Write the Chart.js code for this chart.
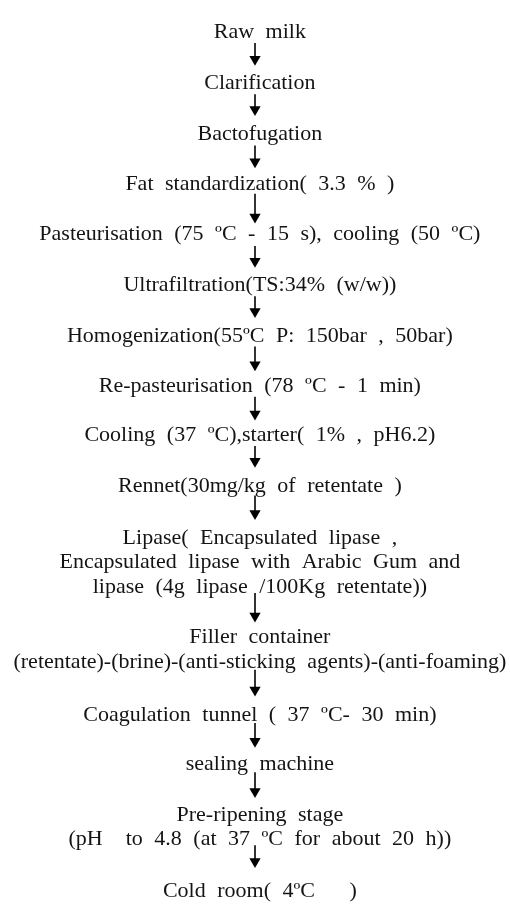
<!DOCTYPE html>
<html>
<head>
<meta charset="utf-8">
<script src="https://cdn.jsdelivr.net/npm/chart.js@4/dist/chart.umd.min.js"></script>
<style>
  html, body { margin: 0; padding: 0; background: #fff; }
  #wrap { width: 510px; height: 905px; }
</style>
</head>
<body>
<div id="wrap"><canvas id="flow" width="510" height="905"></canvas></div>
<script>
// Pasos del diagrama (cada paso puede tener varias lineas)
const stepLabels = [
  ['Raw milk'],
  ['Clarification'],
  ['Bactofugation'],
  ['Fat standardization( 3.3 % )'],
  ['Pasteurisation (75 ºC - 15 s), cooling (50 ºC)'],
  ['Ultrafiltration(TS:34% (w/w))'],
  ['Homogenization(55ºC P: 150bar , 50bar)'],
  ['Re-pasteurisation (78 ºC - 1 min)'],
  ['Cooling (37 ºC),starter( 1% , pH6.2)'],
  ['Rennet(30mg/kg of retentate )'],
  ['Lipase( Encapsulated lipase ,', 'Encapsulated lipase with Arabic Gum and', 'lipase (4g lipase /100Kg retentate))'],
  ['Filler container', '(retentate)-(brine)-(anti-sticking agents)-(anti-foaming)'],
  ['Coagulation tunnel ( 37 ºC- 30 min)'],
  ['sealing machine'],
  ['Pre-ripening stage', '(pH  to 4.8 (at 37 ºC for about 20 h))'],
  ['Cold room( 4ºC   )']
];
// posicion vertical (centro de la primera linea) de cada paso
const stepY = [24, 76, 127, 178, 229, 281, 332, 383, 433, 485, 537, 638, 717, 767, 818, 895];

// flechas entre pasos: inicio y punta
const arrowTop = [37, 89, 141, 190, 243, 294, 345, 396, 446, 496, 595, 673, 727, 777, 851];
const arrowTip = [60, 111, 164, 220, 265, 316, 370, 420, 468, 521, 625, 700, 752, 803, 874];

const flowX = 255;      // eje de las flechas
const textX = 260;      // centro del texto
const lineGap = 25;
const baseShift = 8;    // de centro a linea base
const headR = 6.5;

// Segmentos de flechas (separados por null)
const shaftData = [];
const headData = [];
arrowTop.forEach((top, i) => {
  shaftData.push({ x: flowX, y: top });
  shaftData.push({ x: flowX, y: arrowTip[i] - headR });
  shaftData.push({ x: flowX, y: null });
  headData.push({ x: flowX, y: arrowTip[i] - headR });
});

// Plugin para dibujar el texto de cada paso
const stepTextPlugin = {
  id: 'stepText',
  afterDatasetsDraw(chart) {
    const ctx = chart.ctx;
    const xs = chart.scales.x;
    const ys = chart.scales.y;
    ctx.save();
    ctx.font = '22px "Liberation Serif", "Times New Roman", serif';
    ctx.fillStyle = '#141414';
    ctx.textAlign = 'center';
    ctx.textBaseline = 'alphabetic';
    if ('wordSpacing' in ctx) ctx.wordSpacing = '6px';
    stepLabels.forEach((lines, i) => {
      lines.forEach((line, j) => {
        ctx.fillText(line, xs.getPixelForValue(textX), ys.getPixelForValue(stepY[i] + j * lineGap + baseShift));
      });
    });
    ctx.restore();
  }
};

const flowCtx = document.getElementById('flow').getContext('2d');
const flowChart = new Chart(flowCtx, {
  type: 'scatter',
  data: {
    datasets: [{
      data: shaftData,
      showLine: true,
      spanGaps: false,
      borderColor: '#000',
      borderWidth: 1.6,
      pointRadius: 0
    }, {
      data: headData,
      showLine: false,
      pointStyle: 'triangle',
      rotation: 180,
      pointRadius: headR,
      backgroundColor: '#000',
      borderColor: '#000',
      borderWidth: 0
    }]
  },
  options: {
    responsive: false,
    animation: false,
    layout: { padding: 0 },
    scales: {
      x: { type: 'linear', min: 0, max: 510, display: false },
      y: { type: 'linear', min: 0, max: 905, reverse: true, display: false }
    },
    plugins: {
      legend: { display: false },
      tooltip: { enabled: false }
    }
  },
  plugins: [stepTextPlugin]
});
</script>
</body>
</html>
